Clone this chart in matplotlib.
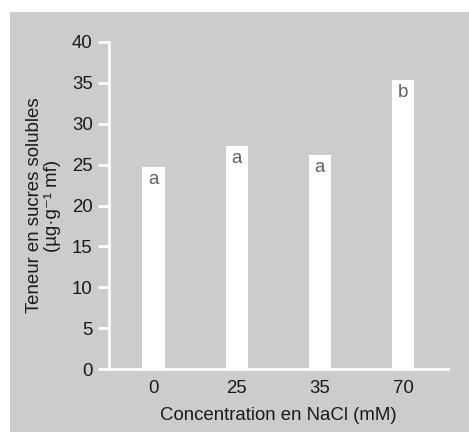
import matplotlib
matplotlib.use("Agg")
import matplotlib.pyplot as plt
from matplotlib.patches import Rectangle

categories = ["0", "25", "35", "70"]
values = [24.7, 27.3, 26.2, 35.3]
letters = ["a", "a", "a", "b"]
yticks = [0, 5, 10, 15, 20, 25, 30, 35, 40]

plt.rcParams['font.family'] = ['Liberation Sans', 'DejaVu Sans']

W, H = 469, 432
FS = 13.4
fig = plt.figure(figsize=(W/100, H/100), dpi=100)
fig.patch.set_facecolor("white")
fig.patches.append(Rectangle((10/W, 0), 1 - 10/W, (H-12)/H, transform=fig.transFigure,
                             facecolor="#cccccc", edgecolor="none", zorder=-10))

ax = fig.add_axes([108.7/W, (H-369.3)/H, (448-108.7)/W, (369.3-41.7)/H])
ax.set_zorder(5)
ax.set_facecolor("none")
x = list(range(len(categories)))
ax.bar(x, values, width=0.27, color="white", edgecolor="none", zorder=2)
for xi, v, l in zip(x, values, letters):
    ax.annotate(l, (xi, v), xytext=(0, -3), textcoords="offset points",
                ha="center", va="top", fontsize=FS, color="#606060", zorder=3)

ax.set_xlim(-0.54, 3.54)
ax.set_ylim(0, 40)
ax.set_xticks(x)
ax.set_xticklabels(categories)
ax.set_yticks(yticks)
for s in ["top", "right"]:
    ax.spines[s].set_visible(False)
for s in ["left", "bottom"]:
    ax.spines[s].set_color("white")
    ax.spines[s].set_linewidth(2)
ax.tick_params(axis="y", length=8, width=2, color="white", pad=3.5, labelsize=FS, labelcolor="#1a1a1a")
ax.tick_params(axis="x", length=0, pad=8, labelsize=FS, labelcolor="#1a1a1a")
ax.set_xlabel("Concentration en NaCl (mM)", fontsize=FS, color="#1a1a1a", labelpad=7)
ax.set_ylabel("Teneur en sucres solubles\n(µg·g⁻¹ mf)", fontsize=FS, color="#1a1a1a",
              labelpad=8, linespacing=1.05)

fig.savefig("out.png", dpi=100)
